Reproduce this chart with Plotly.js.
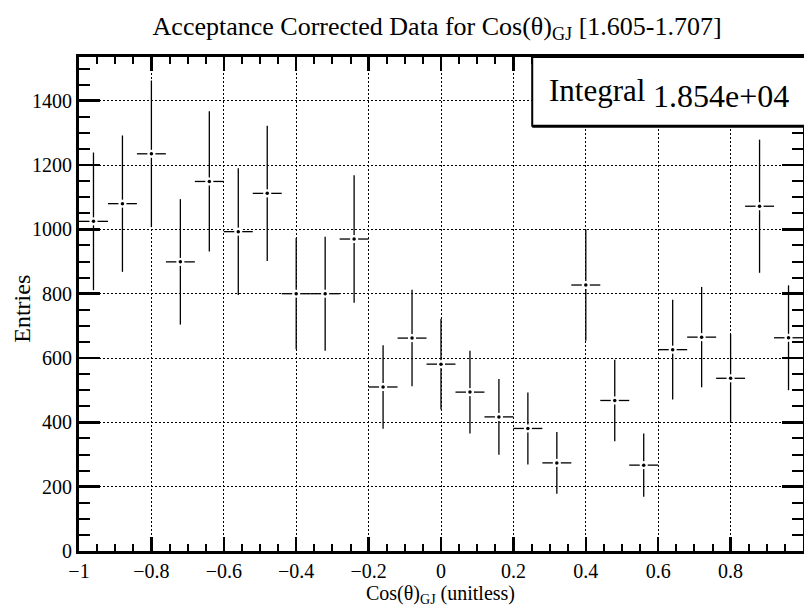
<!DOCTYPE html>
<html>
<head>
<meta charset="utf-8">
<script src="https://cdn.plot.ly/plotly-3.0.1.min.js"></script>
<style>html,body{margin:0;padding:0;background:#fff;}#plot{width:804px;height:607px;}</style>
</head>
<body>
<div id="plot"></div>
<script>
// Bin centers of cos(theta)_GJ (25 bins, width 0.08)
const binCenters = [-0.96,-0.88,-0.80,-0.72,-0.64,-0.56,-0.48,-0.40,-0.32,-0.24,-0.16,-0.08,0.00,0.08,0.16,0.24,0.32,0.40,0.48,0.56,0.64,0.72,0.80,0.88,0.96];
const binHalfWidth = [0.04,0.04,0.04,0.04,0.04,0.04,0.04,0.04,0.04,0.04,0.04,0.04,0.04,0.04,0.04,0.04,0.04,0.04,0.04,0.04,0.04,0.04,0.04,0.04,0.04];
const entries = [1025,1080,1235,899,1149,993,1112,800,800,970,510,662,581,494,417,381,274,827,468,267,626,665,537,1072,663];
const errors = [214,212,228,195,218,197,210,173,177,198,130,150,141,129,118,112,96,173,127,98,155,156,137,207,163];
const xTickVals = [-1,-0.8,-0.6,-0.4,-0.2,0,0.2,0.4,0.6,0.8,1];
const yTickVals = [0,200,400,600,800,1000,1200,1400];
const integralText = "1.854e+04";

const serif = "Liberation Serif, Times New Roman, serif";

const errTrace = {
  x: binCenters, y: entries, type: 'scatter', mode: 'markers',
  marker: {symbol: 'square', size: 8, color: 'white', line: {width: 0}},
  error_y: {type: 'data', array: errors, visible: true, color: 'black', thickness: 1.3, width: 0},
  error_x: {type: 'data', array: binHalfWidth, visible: true, color: 'black', thickness: 1.3, width: 0},
  hoverinfo: 'skip', showlegend: false
};
const dotTrace = {
  x: binCenters, y: entries, type: 'scatter', mode: 'markers',
  marker: {symbol: 'circle', size: 3.5, color: 'black'},
  showlegend: false
};

const axisCommon = {
  showline: true, linecolor: 'black', linewidth: 3, mirror: 'allticks',
  ticks: 'inside', tickcolor: 'black', tickwidth: 2.5,
  showgrid: true, gridcolor: 'black', gridwidth: 1, griddash: '1.5px,2.5px',
  zeroline: false, tickfont: {family: serif, size: 20, color: 'black'}
};

const layout = {
  width: 804, height: 607,
  margin: {l: 79, r: 1, t: 57, b: 56},
  paper_bgcolor: 'white', plot_bgcolor: 'white',
  font: {family: serif, color: 'black'},
  title: {text: 'Acceptance Corrected Data for Cos(θ)<sub>GJ</sub> [1.605-1.707]',
          font: {family: serif, size: 26, color: 'black'},
          x: (437-79)/723.7, xanchor: 'center', xref: 'paper', y: 0.958, yanchor: 'middle'},
  xaxis: Object.assign({}, axisCommon, {
    range: [-1, 1], tickvals: xTickVals, ticklen: 14,
    minor: {dtick: 0.05, tick0: -1, ticks: 'inside', ticklen: 7, tickwidth: 2, tickcolor: 'black', showgrid: false}
  }),
  yaxis: Object.assign({}, axisCommon, {
    range: [0, 1536], tickvals: yTickVals, ticklen: 21,
    minor: {dtick: 50, tick0: 0, ticks: 'inside', ticklen: 11, tickwidth: 2, tickcolor: 'black', showgrid: false}
  }),
  shapes: [
    {type: 'rect', xref: 'paper', yref: 'paper', x0: 0.626, x1: 1.01, y0: 0.861, y1: 1.0,
     fillcolor: 'white', line: {color: 'black', width: 2}, layer: 'above'},
    {type: 'line', xref: 'paper', yref: 'paper', x0: 0.626, x1: 1.01, y0: 0.859, y1: 0.859,
     line: {color: 'black', width: 2}, layer: 'above'}
  ],
  annotations: [
    {text: 'Integral', xref: 'paper', yref: 'paper', x: 0.647, y: 0.932, xanchor: 'left', yanchor: 'middle',
     showarrow: false, font: {family: serif, size: 31, color: 'black'}},
    {text: integralText, xref: 'paper', yref: 'paper', x: 0.984, y: 0.922, xanchor: 'right', yanchor: 'middle',
     showarrow: false, font: {family: serif, size: 32, color: 'black'}},
    {text: 'Cos(θ)<sub>GJ</sub> (unitless)', xref: 'paper', yref: 'paper', x: (440-79)/723.7, y: -0.088,
     xanchor: 'center', yanchor: 'middle', showarrow: false, borderpad: 0,
     font: {family: serif, size: 20, color: 'black'}},
    {text: 'Entries', xref: 'paper', yref: 'paper', x: -0.079, y: 0.49, textangle: -90,
     xanchor: 'center', yanchor: 'middle', showarrow: false, font: {family: serif, size: 24, color: 'black'}}
  ]
};

Plotly.newPlot('plot', [errTrace, dotTrace], layout, {displayModeBar: false, staticPlot: true});
</script>
</body>
</html>
